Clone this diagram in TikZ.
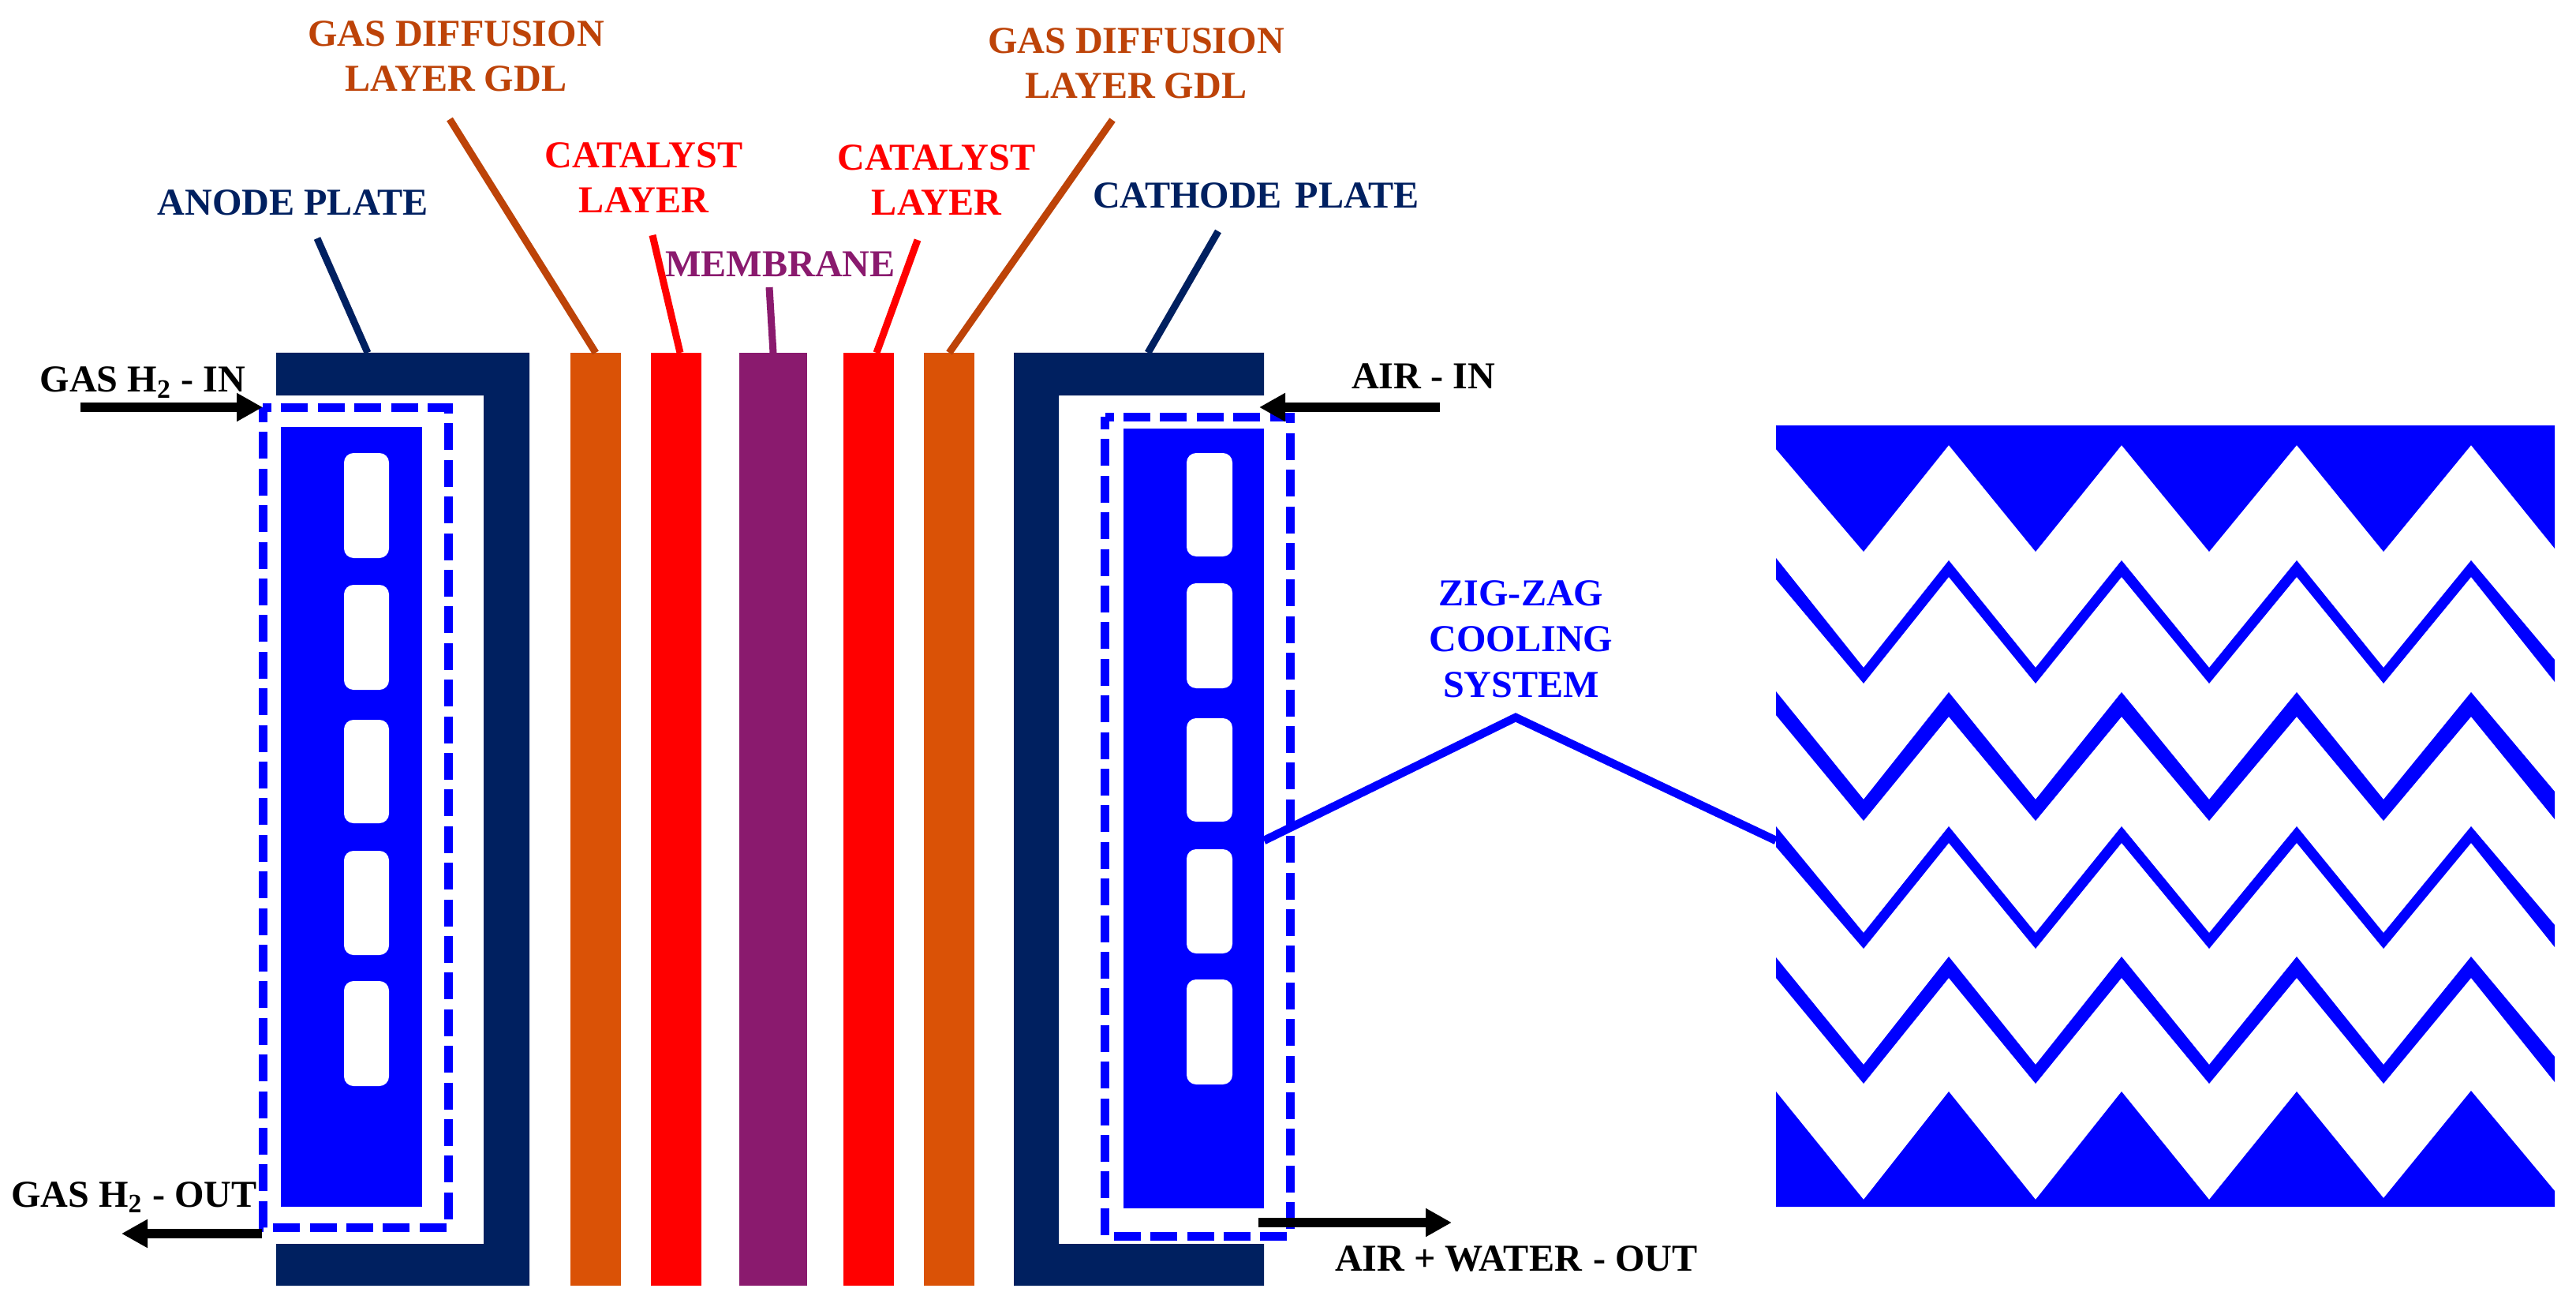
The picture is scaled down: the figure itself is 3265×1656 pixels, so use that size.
\documentclass[tikz,border=0pt]{standalone}
\usepackage{fontspec}
\setmainfont{Liberation Serif}
\usetikzlibrary{arrows.meta}
\definecolor{plateNavy}{HTML}{002060}
\definecolor{gdlOrange}{HTML}{DA5206}
\definecolor{gdlBrown}{HTML}{BD4308}
\definecolor{catRed}{HTML}{FF0000}
\definecolor{memPurple}{HTML}{8A1A6E}
\definecolor{coolBlue}{HTML}{0000FF}

\begin{document}
\begin{tikzpicture}[
      x=0.1mm, y=-0.1mm,
      layer/.style={rectangle, inner sep=0pt, outer sep=0pt, minimum height=118.2mm},
      block/.style={rectangle, fill=coolBlue, inner sep=0pt, outer sep=0pt},
      label/.style={inner sep=0pt, align=center, font=\bfseries\fontsize{13.7pt}{16.5pt}\selectfont, anchor=base},
      leader/.style={line width=0.9mm},
      flow/.style={line width=1.2mm, -{Triangle[length=3.3mm,width=3.4mm]}},
      dashbox/.style={coolBlue, line width=1.1mm, dash pattern=on 3.4mm off 1.24mm, dash phase=2.3mm}
    ]
    \useasboundingbox (0,0) rectangle (3265,1656);

    % plates
    \fill[plateNavy] (350,447) -- (671,447) -- (671,1629) -- (350,1629) -- (350,1576) -- (613,1576) -- (613,501) -- (350,501) -- cycle;
    \fill[plateNavy] (1602,447) -- (1285,447) -- (1285,1629) -- (1602,1629) -- (1602,1576) -- (1342,1576) -- (1342,501) -- (1602,501) -- cycle;
    \coordinate (anodeFoot) at (466,447);
    \coordinate (cathodeFoot) at (1455,447);

    % layers
    \node[layer, fill=gdlOrange, minimum width=6.4mm] (gdlA) at (755,1038) {};
    \node[layer, fill=catRed, minimum width=6.4mm] (catA) at (857,1038) {};
    \node[layer, fill=memPurple, minimum width=8.6mm] (mem) at (980,1038) {};
    \node[layer, fill=catRed, minimum width=6.4mm] (catB) at (1101,1038) {};
    \node[layer, fill=gdlOrange, minimum width=6.4mm] (gdlB) at (1203,1038) {};

    % cooling blocks
    \node[block, minimum width=17.9mm, minimum height=98.8mm] (coolA) at (445.5,1035) {};
    \node[block, minimum width=17.85mm, minimum height=98.8mm] (coolB) at (1513,1037) {};
    \foreach \y/\h in {574/133, 741/133, 912/131, 1078/132, 1243/133}
      \fill[white, rounded corners=1.2mm] (436,\y) rectangle ++(57,\h);
    \foreach \y/\h in {574/131, 739/133, 910/131, 1076/132, 1241/133}
      \fill[white, rounded corners=1.2mm] (1504,\y) rectangle ++(58,\h);

    % dashed outlines
    \draw[dashbox] (333,516) -- (568,516) -- (568,1555) -- (333,1555) -- cycle;
    \draw[dashbox] (1400.5,528) -- (1635,528) -- (1635,1566) -- (1400.5,1566) -- cycle;

    % zig-zag channels
    \fill[coolBlue] (2251,539) -- (3238,539) -- (3238,695) -- (3132,564) -- (3021,699) -- (2911,564) -- (2800,699) -- (2689,564) -- (2580,699) -- (2470,564) -- (2362,699) -- (2251,569) -- cycle;
    \foreach \ya/\yb/\yc/\yd/\ye/\yf in {707/710/846/734/731/866, 876/877/1013/906/908/1040, 1047/1047/1182/1073/1068/1202, 1213/1212/1349/1239/1239/1373}
      \fill[coolBlue] (2251,\ya) -- (2362,\yc) -- (2470,\yb) -- (2580,\yc) -- (2689,\yb) -- (2800,\yc) -- (2911,\yb) -- (3021,\yc) -- (3132,\yb) -- (3238,\yc-10) -- (3238,\yf-2) -- (3132,\ye) -- (3021,\yf) -- (2911,\ye) -- (2800,\yf) -- (2689,\ye) -- (2580,\yf) -- (2470,\ye) -- (2362,\yf) -- (2251,\yd) -- cycle;
    \fill[coolBlue] (2251,1383) -- (2362,1520) -- (2470,1383) -- (2580,1520) -- (2689,1383) -- (2800,1520) -- (2911,1383) -- (3021,1518) -- (3132,1382) -- (3238,1509) -- (3238,1529) -- (2251,1529) -- cycle;
    \coordinate (zigStart) at (1602,1065);
    \coordinate (zigBend) at (1921,909);
    \coordinate (zigEnd) at (2251,1065);
    \draw[coolBlue, line width=1.05mm] (zigStart) -- (zigBend) -- (zigEnd);

    % labels
    \node[label, text=plateNavy] (anode) at (371,273) {ANODE PLATE};
    \node[label, text=plateNavy] (cathode) at (1592,264) {CATHODE\hspace{0.1em} PLATE};
    \node[label, text=gdlBrown] (gdlAtext) at (578,116) {GAS DIFFUSION\\LAYER GDL};
    \node[label, text=gdlBrown] (gdlBtext) at (1440,125) {GAS DIFFUSION\\LAYER GDL};
    \node[label, text=catRed] (catAtext) at (816,270) {CATALYST\\LAYER};
    \node[label, text=catRed] (catBtext) at (1187,273) {CATALYST\\LAYER};
    \node[label, text=memPurple] (memtext) at (989,351) {MEMBRANE};
    \node[label, text=coolBlue] (zigtext) at (1928,883) {ZIG-ZAG\\COOLING\\SYSTEM};
    \node[label] (gasIn) at (181,497) {GAS H\textsubscript{2} - IN};
    \node[label] (gasOut) at (170,1529) {GAS H\textsubscript{2} - OUT};
    \node[label] (airIn) at (1804,493) {AIR - IN};
    \node[label] (airOut) at (1922,1610) {AIR + WATER\hspace{0.05em} - OUT};

    % leaders
    \coordinate (anodeTop) at (402,302);
    \coordinate (cathodeTop) at (1544,293);
    \coordinate (gdlAtop) at (570,151);
    \coordinate (gdlBtop) at (1410,152);
    \coordinate (catAtop) at (827,298);
    \coordinate (catBtop) at (1163,304);
    \coordinate (memTop) at (975,364);
    \draw[leader, plateNavy] (anodeTop) -- (anodeFoot);
    \draw[leader, plateNavy] (cathodeTop) -- (cathodeFoot);
    \draw[leader, gdlBrown] (gdlAtop) -- (gdlA.north);
    \draw[leader, gdlBrown] (gdlBtop) -- (gdlB.north);
    \draw[leader, catRed] (catAtop) -- ([xshift=0.5mm]catA.north);
    \draw[leader, catRed] (catBtop) -- ([xshift=1mm]catB.north);
    \draw[leader, memPurple] (memTop) -- (mem.north);

    % flow arrows
    \coordinate (gasInTail) at (102,516);
    \coordinate (gasInTip) at (333,516);
    \coordinate (gasOutTail) at (332,1563);
    \coordinate (gasOutTip) at (154,1563);
    \coordinate (airInTail) at (1825,516);
    \coordinate (airInTip) at (1596,516);
    \coordinate (airOutTail) at (1595,1549);
    \coordinate (airOutTip) at (1840,1549);
    \draw[flow] (gasInTail) -- (gasInTip);
    \draw[flow] (gasOutTail) -- (gasOutTip);
    \draw[flow] (airInTail) -- (airInTip);
    \draw[flow] (airOutTail) -- (airOutTip);
  \end{tikzpicture}
\end{document}
